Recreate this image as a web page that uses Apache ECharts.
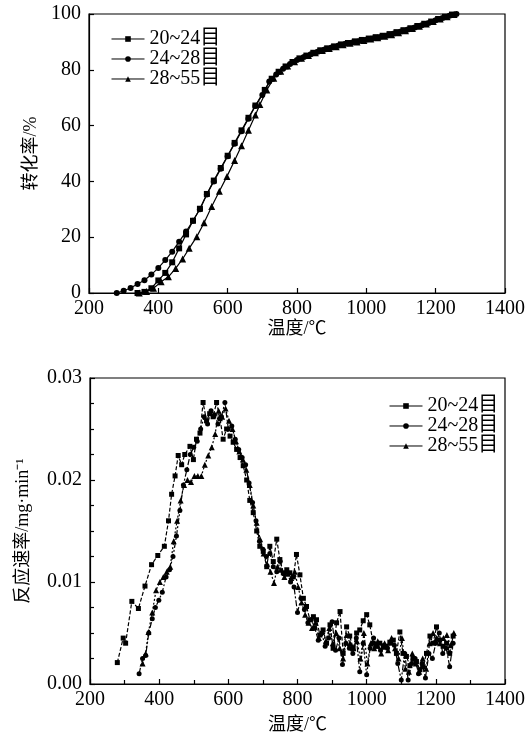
<!DOCTYPE html>
<html>
<head>
<meta charset="utf-8">
<script src="https://cdn.jsdelivr.net/npm/echarts@6/dist/echarts.min.js"></script>
<style>html,body{margin:0;padding:0;background:#fff;}#c{width:532px;height:740px;}</style>
</head>
<body>
<div id="c"></div>
<script>
// ---- data ----
const seriesNames = ['20~24目', '24~28目', '28~55目'];
const xTicks = [200, 400, 600, 800, 1000, 1200, 1400];

// conversion (%) vs temperature (°C)
const conv_20_24 = [[340,0],[360,0.4],[380,1.7],[400,4.5],[420,7.2],[440,11],[460,16],[480,21],[500,25.9],[520,30.2],[540,35.5],[560,40.3],[580,44.8],[600,49.2],[620,53.8],[640,58.3],[660,62.8],[680,67.2],[707,72.8],[727,76.8],[747,79.3],[767,81.2],[787,82.8],[807,84.1],[827,85.1],[847,86.1],[867,87],[887,87.7],[907,88.4],[927,89.1],[947,89.6],[967,90.2],[987,90.7],[1007,91.2],[1027,91.7],[1047,92.2],[1067,92.8],[1087,93.5],[1107,94.2],[1127,94.9],[1147,95.7],[1167,96.5],[1187,97.3],[1207,98.2],[1227,99],[1247,99.8]];
const conv_24_28 = [[280,0],[300,0.8],[320,1.8],[340,3.2],[360,4.6],[380,6.6],[400,9],[420,11.8],[440,14.8],[460,18.4],[480,22],[500,25.9],[520,30],[540,35.3],[560,40],[580,44.5],[600,49],[620,53.5],[640,58],[660,62.5],[680,67],[700,71],[720,75.8],[740,78.3],[760,80.4],[780,82.1],[800,83.5],[820,84.6],[840,85.6],[860,86.5],[880,87.3],[900,88],[920,88.7],[940,89.3],[960,89.8],[980,90.3],[1000,90.8],[1020,91.3],[1040,91.8],[1060,92.3],[1080,93],[1100,93.7],[1120,94.4],[1140,95.2],[1160,96],[1180,96.8],[1200,97.8],[1220,98.6],[1240,99.4],[1260,100]];
const conv_28_55 = [[345,0],[366,0.5],[386,1.7],[408,4],[429,5.8],[450,8.8],[470,12.2],[489,16],[511,20.2],[532,25.2],[554,31],[576,36.5],[598,41.8],[620,47.5],[640,52.8],[660,58.3],[680,63.8],[693,67.6],[713,72.8],[733,77],[753,79.5],[773,81.4],[793,82.9],[813,84.1],[833,85.1],[853,86.1],[873,86.9],[893,87.6],[913,88.3],[933,89],[953,89.5],[973,90],[993,90.5],[1013,91],[1033,91.5],[1053,92],[1073,92.6],[1093,93.3],[1113,94],[1133,94.8],[1153,95.6],[1173,96.4],[1193,97.3],[1213,98.2],[1233,99],[1253,99.8]];

// reaction rate (mg/min) vs temperature (°C)
const rate_20_24 = [[279,0.0021],[296,0.0045],[303,0.0040],[321,0.0081],[340,0.0074],[359,0.0096],[378,0.0117],[396,0.0126],[415,0.0135],[427,0.0160],[436,0.0186],[446,0.0204],[455,0.0224],[465,0.0215],[474,0.0225],[489,0.0233],[499,0.0220],[508,0.0240],[518,0.0246],[527,0.0276],[537,0.0258],[546,0.0265],[556,0.0262],[566,0.0276],[576,0.0260],[585,0.0240],[595,0.0250],[605,0.0243],[614,0.0237],[624,0.0230],[634,0.0222],[643,0.0214],[653,0.0200],[662,0.0180],[672,0.0168],[682,0.0150],[691,0.0135],[701,0.0130],[711,0.0115],[720,0.0135],[730,0.0120],[740,0.0142],[749,0.0122],[759,0.0109],[769,0.0112],[778,0.0109],[788,0.0105],[797,0.0127],[807,0.0107],[817,0.0084],[826,0.0076],[836,0.0063],[846,0.0066],[855,0.0063],[865,0.0048],[874,0.0053],[884,0.0040],[894,0.0058],[903,0.0035],[913,0.0060],[923,0.0071],[932,0.0030],[942,0.0056],[951,0.0047],[961,0.0035],[971,0.0050],[980,0.0053],[990,0.0062],[1000,0.0068],[1009,0.0058],[1019,0.0040],[1028,0.0037],[1038,0.0040],[1048,0.0036],[1057,0.0037],[1067,0.0041],[1077,0.0043],[1086,0.0030],[1096,0.0051],[1105,0.0030],[1115,0.0027],[1125,0.0018],[1134,0.0025],[1144,0.0022],[1154,0.0014],[1163,0.0017],[1173,0.0030],[1183,0.0047],[1192,0.0040],[1202,0.0056],[1211,0.0043],[1221,0.0037],[1231,0.0040],[1240,0.0030],[1250,0.0047]];
const rate_24_28 = [[342,0.0010],[352,0.0025],[361,0.0028],[370,0.0050],[380,0.0064],[389,0.0075],[399,0.0082],[409,0.0090],[420,0.0105],[430,0.0112],[440,0.0125],[450,0.0145],[460,0.0170],[470,0.0195],[480,0.0210],[490,0.0225],[500,0.0232],[510,0.0238],[520,0.0250],[530,0.0262],[540,0.0255],[550,0.0268],[560,0.0264],[570,0.0255],[580,0.0262],[590,0.0276],[600,0.0250],[610,0.0253],[620,0.0240],[630,0.0230],[640,0.0222],[650,0.0215],[660,0.0197],[670,0.0178],[680,0.0160],[690,0.0140],[700,0.0132],[710,0.0125],[720,0.0128],[730,0.0115],[740,0.0110],[750,0.0120],[760,0.0108],[770,0.0110],[780,0.0100],[790,0.0095],[800,0.0070],[810,0.0084],[820,0.0073],[830,0.0060],[840,0.0063],[850,0.0055],[860,0.0043],[870,0.0050],[880,0.0037],[890,0.0045],[900,0.0061],[910,0.0033],[920,0.0045],[930,0.0019],[940,0.0040],[950,0.0035],[960,0.0030],[970,0.0045],[980,0.0012],[990,0.0040],[1000,0.0009],[1010,0.0035],[1020,0.0045],[1030,0.0037],[1040,0.0033],[1050,0.0038],[1060,0.0035],[1070,0.0040],[1080,0.0038],[1090,0.0020],[1100,0.0004],[1110,0.0030],[1120,0.0004],[1130,0.0020],[1140,0.0025],[1150,0.0010],[1160,0.0020],[1170,0.0006],[1180,0.0030],[1190,0.0025],[1200,0.0040],[1210,0.0050],[1220,0.0030],[1230,0.0035],[1240,0.0017],[1250,0.0040]];
const rate_28_55 = [[352,0.0020],[361,0.0030],[369,0.0051],[380,0.0070],[391,0.0092],[402,0.0100],[412,0.0105],[422,0.0110],[432,0.0115],[442,0.0140],[452,0.0160],[462,0.0180],[472,0.0195],[482,0.0200],[492,0.0198],[502,0.0204],[512,0.0204],[522,0.0204],[532,0.0215],[542,0.0224],[552,0.0232],[562,0.0245],[572,0.0268],[582,0.0262],[592,0.0270],[602,0.0258],[612,0.0250],[622,0.0238],[632,0.0228],[642,0.0220],[652,0.0210],[662,0.0195],[672,0.0175],[682,0.0158],[692,0.0142],[702,0.0128],[712,0.0118],[722,0.0110],[732,0.0099],[742,0.0115],[752,0.0112],[762,0.0105],[772,0.0108],[782,0.0104],[792,0.0110],[802,0.0095],[812,0.0080],[822,0.0068],[832,0.0060],[842,0.0055],[852,0.0060],[862,0.0045],[872,0.0052],[882,0.0042],[892,0.0055],[902,0.0040],[912,0.0050],[922,0.0035],[932,0.0025],[942,0.0048],[952,0.0040],[962,0.0035],[972,0.0042],[982,0.0025],[992,0.0050],[1002,0.0020],[1012,0.0040],[1022,0.0035],[1032,0.0042],[1042,0.0030],[1052,0.0040],[1062,0.0033],[1072,0.0045],[1082,0.0035],[1092,0.0025],[1102,0.0045],[1112,0.0015],[1122,0.0012],[1132,0.0030],[1142,0.0020],[1152,0.0012],[1162,0.0025],[1172,0.0015],[1182,0.0040],[1192,0.0050],[1202,0.0045],[1212,0.0040],[1222,0.0045],[1232,0.0048],[1242,0.0038],[1252,0.0050]];

// ---- chart ----
const FONT = "'Liberation Serif', 'Noto Sans CJK SC', serif";
const symbols = ['rect', 'circle', 'triangle'];
const symSizes = [5, 5, 6];
const dashes = [[4, 2], [6, 2, 2, 2], [2, 2]];

function xAxisCfg(gridIndex, nameGap, minor) {
  return {
    gridIndex, type: 'value', min: 200, max: 1400, interval: 200,
    name: '温度/℃', nameLocation: 'middle', nameGap,
    nameTextStyle: { fontFamily: FONT, fontSize: 18, color: '#000' },
    axisLine: { lineStyle: { color: '#000', width: 1.2 } },
    axisTick: { inside: true, length: 5, lineStyle: { color: '#000', width: 1.2 } },
    minorTick: { show: minor, splitNumber: 2, length: 4, lineStyle: { color: '#000', width: 1.2 } },
    axisLabel: { fontFamily: FONT, fontSize: 20, color: '#000', margin: 6,
      formatter: v => xTicks.includes(v) ? String(v) : '' },
    splitLine: { show: false }
  };
}

const legendBase = {
  orient: 'vertical', itemWidth: 33, itemHeight: 7, itemGap: 0,
  textStyle: { fontFamily: FONT, fontSize: 20, color: '#000', lineHeight: 19 },
  lineStyle: { type: 'solid', width: 1 }
};

const option = {
  animation: false,
  backgroundColor: '#fff',
  grid: [
    { left: 89, top: 14, width: 416, height: 279, show: true, borderColor: '#000', borderWidth: 1.2 },
    { left: 90, top: 378, width: 415, height: 306, show: true, borderColor: '#000', borderWidth: 1.2 }
  ],
  legend: [
    Object.assign({}, legendBase, { left: 106, top: 24, data: seriesNames.map(n => 'a' + n),
      formatter: n => n.slice(1) }),
    Object.assign({}, legendBase, { left: 384, top: 391, data: seriesNames.map(n => 'b' + n),
      formatter: n => n.slice(1), textStyle: Object.assign({}, legendBase.textStyle, { lineHeight: 17.5 }) })
  ],
  xAxis: [xAxisCfg(0, 25, false), xAxisCfg(1, 32, true)],
  yAxis: [
    {
      gridIndex: 0, type: 'value', min: 0, max: 100, interval: 20,
      name: '转化率/%', nameLocation: 'middle', nameGap: 33,
      nameTextStyle: { fontFamily: FONT, fontSize: 18, color: '#000' },
      axisLine: { lineStyle: { color: '#000', width: 1.2 } },
      axisTick: { inside: true, length: 5, lineStyle: { color: '#000', width: 1.2 } },
      axisLabel: { fontFamily: FONT, fontSize: 20, color: '#000', margin: 8 },
      splitLine: { show: false }
    },
    {
      gridIndex: 1, type: 'value', min: 0, max: 0.03, interval: 0.01,
      name: '反应速率/mg·min⁻¹', nameLocation: 'middle', nameGap: 58,
      nameTextStyle: { fontFamily: FONT, fontSize: 18, color: '#000' },
      axisLine: { lineStyle: { color: '#000', width: 1.2 } },
      axisTick: { inside: true, length: 5, lineStyle: { color: '#000', width: 1.2 } },
      minorTick: { show: true, splitNumber: 4, length: 4, lineStyle: { color: '#000', width: 1.2 } },
      axisLabel: { fontFamily: FONT, fontSize: 20, color: '#000', margin: 8, formatter: v => v.toFixed(2) },
      splitLine: { show: false }
    }
  ],
  series: []
};

const convData = [conv_20_24, conv_24_28, conv_28_55];
const rateData = [rate_20_24, rate_24_28, rate_28_55];
for (let i = 0; i < 3; i++) {
  option.series.push({
    name: 'a' + seriesNames[i], type: 'line', xAxisIndex: 0, yAxisIndex: 0,
    data: convData[i], symbol: symbols[i], symbolSize: symSizes[i] + 1, showAllSymbol: true,
    itemStyle: { color: '#000' }, lineStyle: { color: '#000', width: 1.2 }
  });
}
for (let i = 0; i < 3; i++) {
  option.series.push({
    name: 'b' + seriesNames[i], type: 'line', xAxisIndex: 1, yAxisIndex: 1,
    data: rateData[i], symbol: symbols[i], symbolSize: symSizes[i], showAllSymbol: true,
    itemStyle: { color: '#000' }, lineStyle: { color: '#000', width: 1.2, type: dashes[i] }
  });
}

const chart = echarts.init(document.getElementById('c'), null, { renderer: 'canvas' });
chart.setOption(option);
</script>
</body>
</html>
